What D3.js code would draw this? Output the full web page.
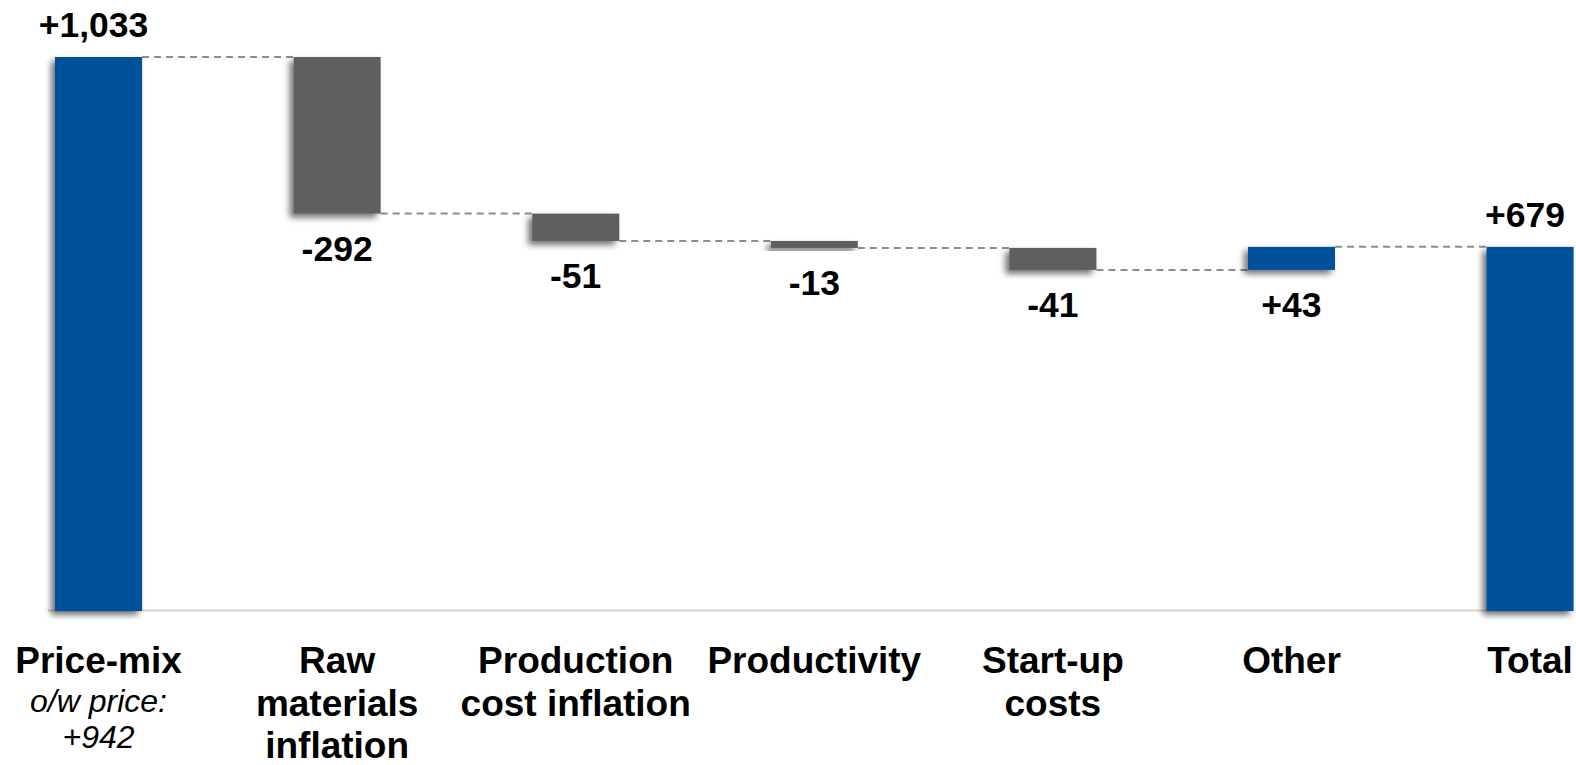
<!DOCTYPE html>
<html>
<head>
<meta charset="utf-8">
<script src="https://cdn.jsdelivr.net/npm/d3@7/dist/d3.min.js"></script>
<style>
  html, body { margin: 0; padding: 0; background: #ffffff; }
  svg { display: block; }
  text { font-family: "Liberation Sans", Arial, sans-serif; fill: #000; }
</style>
</head>
<body>
<svg id="chart" width="1576" height="765"></svg>
<script>
// Operating margin bridge: contributions by driver
const categories = ["Price-mix", "Raw materials inflation", "Production cost inflation",
                    "Productivity", "Start-up costs", "Other", "Total"];
const categoryLines = [["Price-mix"], ["Raw", "materials", "inflation"], ["Production", "cost inflation"],
                       ["Productivity"], ["Start-up", "costs"], ["Other"], ["Total"]];
const deltas = [1033, -292, -51, -13, -41, 43, 679];
const kinds = ["total", "step", "step", "step", "step", "step", "total"];
const priceNote = ["o/w price:", "+942"];

const BLUE = "#00519c";
const GREY = "#5f5f5f";

const svg = d3.select("#chart");

const defs = svg.append("defs");
const shadow = defs.append("filter").attr("id", "barShadow")
  .attr("x", "-20%").attr("y", "-20%").attr("width", "140%").attr("height", "160%");
shadow.append("feDropShadow")
  .attr("dx", -4).attr("dy", 4).attr("stdDeviation", 3)
  .attr("flood-color", "#000").attr("flood-opacity", 0.55);

// Running totals for the floating bars
let run = 0;
const bars = deltas.map((d, i) => {
  let y0, y1;
  if (kinds[i] === "total") { y0 = 0; y1 = d; run = d; }
  else { y0 = run; y1 = run + d; run = y1; }
  return { cat: categories[i], lines: categoryLines[i], value: d, kind: kinds[i], y0, y1 };
});

const x = d3.scaleBand()
  .domain(categories)
  .range([55, 55 + 6 * 238.6 + 87])
  .paddingInner(0.635)
  .paddingOuter(0);

const y = d3.scaleLinear().domain([0, 1033]).range([611, 57]);

const fmt = d3.formatLocale({ decimal: ".", thousands: ",", grouping: [3], currency: ["", ""], minus: "-" })
  .format("+,");

// Baseline
svg.append("line")
  .attr("x1", 48).attr("x2", 1568)
  .attr("y1", y(0) - 0.5).attr("y2", y(0) - 0.5)
  .attr("stroke", "#d4d4d4").attr("stroke-width", 2);

// Dashed connectors between consecutive bars
const connectors = bars.slice(0, -1).map((b, i) => ({
  x1: x(b.cat) + x.bandwidth(),
  x2: x(bars[i + 1].cat),
  level: b.y1
}));
svg.append("g").selectAll("line").data(connectors).join("line")
  .attr("x1", d => d.x1).attr("x2", d => d.x2)
  .attr("y1", d => y(d.level)).attr("y2", d => y(d.level))
  .attr("stroke", "#8c8c8c").attr("stroke-width", 2)
  .attr("stroke-dasharray", "7,5");

// Bars
svg.append("g").selectAll("rect").data(bars).join("rect")
  .attr("x", d => x(d.cat))
  .attr("width", x.bandwidth())
  .attr("y", d => y(Math.max(d.y0, d.y1)))
  .attr("height", d => Math.abs(y(d.y0) - y(d.y1)))
  .attr("fill", d => (d.kind === "total" || d.value > 0) ? BLUE : GREY)
  .attr("filter", "url(#barShadow)");

// Value labels: above for totals, below for floating steps
svg.append("g").selectAll("text").data(bars).join("text")
  .attr("x", d => x(d.cat) + x.bandwidth() / 2 + (d.kind === "total" ? -5 : 0))
  .attr("y", d => d.kind === "total"
    ? y(Math.max(d.y0, d.y1)) - 20
    : y(Math.min(d.y0, d.y1)) + 47.5)
  .attr("text-anchor", "middle")
  .style("font-size", "35.5px").style("font-weight", "bold")
  .text(d => fmt(d.value));

// Category labels
const cat = svg.append("g").selectAll("text").data(bars).join("text")
  .attr("text-anchor", "middle")
  .style("font-size", "37px").style("font-weight", "bold");
cat.selectAll("tspan").data(d => d.lines.map(l => ({ l, cx: x(d.cat) + x.bandwidth() / 2 })))
  .join("tspan")
  .attr("x", d => d.cx)
  .attr("y", (d, i) => 673 + i * 42.5)
  .text(d => d.l);

// Price component note under the first category
svg.append("g").selectAll("text").data(priceNote).join("text")
  .attr("x", x(categories[0]) + x.bandwidth() / 2)
  .attr("y", (d, i) => 711.5 + i * 36.5)
  .attr("text-anchor", "middle")
  .style("font-size", "32px").style("font-style", "italic")
  .text(d => d);
</script>
</body>
</html>
